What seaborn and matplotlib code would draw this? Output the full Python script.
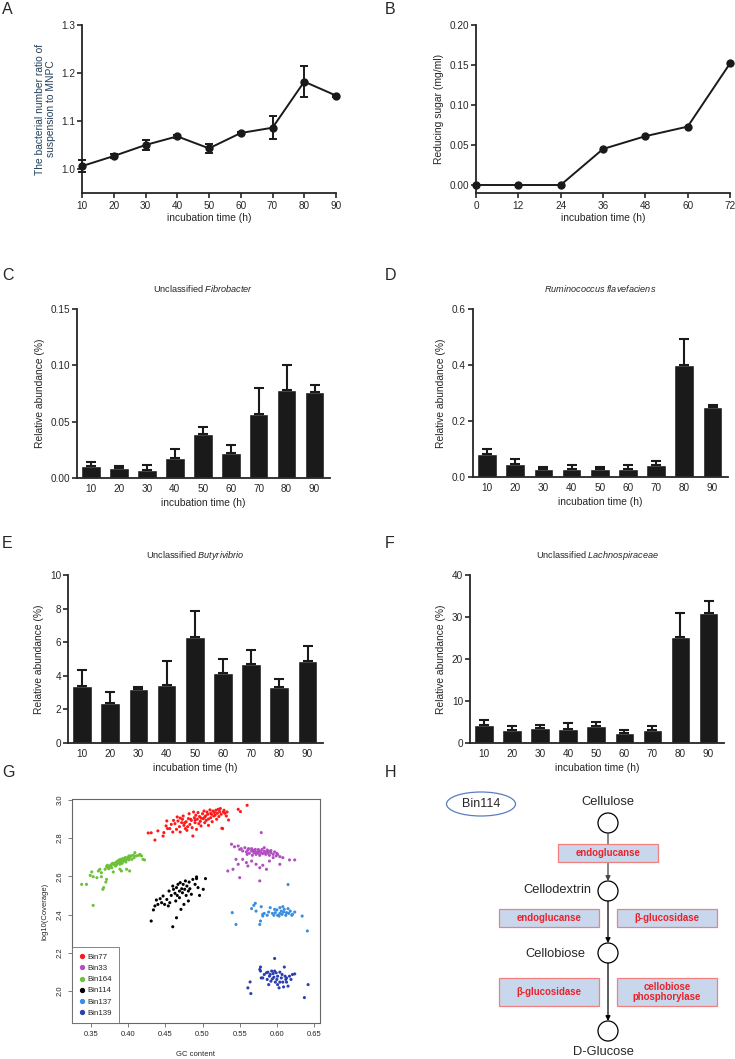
import numpy as np
import pandas as pd
import matplotlib
matplotlib.use('Agg')
import matplotlib.pyplot as plt
import seaborn as sns
from matplotlib.patches import Ellipse, Circle, Rectangle
from matplotlib.lines import Line2D

# Datos

# A - ratio bacteriano
time_a = [10, 20, 30, 40, 50, 60, 70, 80, 90]
ratio_a = [1.006, 1.027, 1.050, 1.068, 1.043, 1.075, 1.086, 1.182, 1.153]
ratio_a_err = [0.013, 0.005, 0.010, 0.003, 0.010, 0.002, 0.024, 0.032, 0.002]

# B - azucar reductor
time_b = [0, 12, 24, 36, 48, 60, 72]
sugar_b = [0.0, 0.0, 0.0, 0.045, 0.061, 0.073, 0.152]

# C-F - abundancia relativa
time_labels = ['10', '20', '30', '40', '50', '60', '70', '80', '90']
fibro = [0.0104, 0.0089, 0.0071, 0.0176, 0.0390, 0.0226, 0.0568, 0.0783, 0.0759]
fibro_err = [0.0036, 0.0018, 0.0045, 0.0083, 0.0062, 0.0064, 0.0227, 0.0217, 0.0065]
rumino = [0.081, 0.046, 0.030, 0.030, 0.029, 0.029, 0.042, 0.401, 0.249]
rumino_err = [0.018, 0.017, 0.007, 0.014, 0.008, 0.014, 0.016, 0.093, 0.008]
butyri = [3.41, 2.36, 3.22, 3.43, 6.33, 4.14, 4.73, 3.33, 4.86]
butyri_err = [0.94, 0.70, 0.11, 1.43, 1.55, 0.88, 0.78, 0.49, 0.94]
lachno = [4.2, 3.0, 3.65, 3.3, 4.05, 2.46, 3.17, 25.2, 30.9]
lachno_err = [1.3, 1.0, 0.75, 1.5, 1.05, 0.55, 0.88, 5.8, 2.8]

# G - bins (GC, log10 coverage)
bin77 = [(0.427, 2.827), (0.431, 2.828), (0.436, 2.790), (0.440, 2.838), (0.447, 2.811), (0.448, 2.829),
         (0.451, 2.864), (0.452, 2.890), (0.453, 2.850), (0.456, 2.850), (0.458, 2.872), (0.460, 2.832),
         (0.461, 2.893), (0.463, 2.876), (0.465, 2.846), (0.466, 2.911), (0.467, 2.890), (0.469, 2.860),
         (0.470, 2.832), (0.472, 2.881), (0.473, 2.899), (0.474, 2.916), (0.475, 2.867), (0.477, 2.850),
         (0.478, 2.886), (0.479, 2.841), (0.481, 2.902), (0.482, 2.928), (0.483, 2.872), (0.485, 2.893),
         (0.486, 2.855), (0.487, 2.811), (0.488, 2.937), (0.489, 2.907), (0.490, 2.881), (0.491, 2.920),
         (0.492, 2.846), (0.493, 2.899), (0.494, 2.934), (0.495, 2.876), (0.496, 2.913), (0.497, 2.888),
         (0.498, 2.864), (0.500, 2.928), (0.501, 2.902), (0.502, 2.942), (0.503, 2.881), (0.504, 2.916),
         (0.505, 2.893), (0.506, 2.937), (0.507, 2.925), (0.508, 2.867), (0.510, 2.948), (0.511, 2.907),
         (0.512, 2.925), (0.513, 2.886), (0.514, 2.942), (0.515, 2.916), (0.516, 2.934), (0.518, 2.946),
         (0.519, 2.899), (0.520, 2.930), (0.521, 2.951), (0.522, 2.913), (0.523, 2.939), (0.524, 2.955),
         (0.525, 2.925), (0.526, 2.852), (0.527, 2.850), (0.528, 2.937), (0.529, 2.946), (0.530, 2.930),
         (0.532, 2.916), (0.533, 2.937), (0.535, 2.895), (0.548, 2.951), (0.551, 2.939), (0.560, 2.972),
         (0.484, 2.899), (0.490, 2.895), (0.498, 2.905), (0.503, 2.910), (0.508, 2.900), (0.511, 2.930),
         (0.517, 2.920), (0.476, 2.880), (0.470, 2.905), (0.480, 2.860)]
bin33 = [(0.539, 2.768), (0.543, 2.755), (0.548, 2.759), (0.550, 2.741), (0.552, 2.745), (0.554, 2.733),
         (0.557, 2.750), (0.559, 2.728), (0.560, 2.715), (0.561, 2.738), (0.562, 2.745), (0.563, 2.721),
         (0.566, 2.733), (0.567, 2.710), (0.568, 2.736), (0.569, 2.724), (0.570, 2.731), (0.571, 2.741),
         (0.572, 2.715), (0.574, 2.728), (0.575, 2.721), (0.576, 2.736), (0.577, 2.710), (0.578, 2.729),
         (0.579, 2.724), (0.580, 2.741), (0.581, 2.719), (0.583, 2.731), (0.583, 2.750), (0.585, 2.715),
         (0.586, 2.728), (0.587, 2.738), (0.588, 2.721), (0.589, 2.731), (0.590, 2.710), (0.592, 2.724),
         (0.595, 2.715), (0.597, 2.728), (0.599, 2.707), (0.601, 2.714), (0.604, 2.703), (0.608, 2.698),
         (0.617, 2.686), (0.624, 2.686), (0.541, 2.637), (0.545, 2.689), (0.548, 2.663), (0.554, 2.689),
         (0.559, 2.672), (0.561, 2.654), (0.566, 2.680), (0.572, 2.663), (0.577, 2.645), (0.581, 2.658),
         (0.586, 2.637), (0.590, 2.680), (0.595, 2.698), (0.604, 2.663), (0.534, 2.628), (0.550, 2.593),
         (0.577, 2.576), (0.579, 2.829), (0.575, 2.740), (0.584, 2.725), (0.592, 2.735), (0.571, 2.725),
         (0.566, 2.745), (0.600, 2.720)]
bin164 = [(0.3375, 2.558), (0.344, 2.558), (0.349, 2.605), (0.351, 2.623), (0.353, 2.598), (0.358, 2.593),
          (0.360, 2.628), (0.362, 2.637), (0.364, 2.619), (0.366, 2.532), (0.367, 2.541), (0.369, 2.637),
          (0.370, 2.570), (0.371, 2.651), (0.372, 2.658), (0.374, 2.640), (0.375, 2.654), (0.377, 2.661),
          (0.378, 2.645), (0.380, 2.663), (0.381, 2.668), (0.383, 2.654), (0.384, 2.675), (0.384, 2.658),
          (0.386, 2.680), (0.387, 2.672), (0.388, 2.686), (0.389, 2.663), (0.390, 2.689), (0.392, 2.680),
          (0.392, 2.668), (0.393, 2.693), (0.395, 2.686), (0.396, 2.698), (0.397, 2.675), (0.398, 2.689),
          (0.399, 2.698), (0.401, 2.707), (0.401, 2.686), (0.402, 2.698), (0.404, 2.707), (0.405, 2.689),
          (0.407, 2.710), (0.408, 2.698), (0.409, 2.724), (0.411, 2.707), (0.414, 2.710), (0.416, 2.715),
          (0.418, 2.707), (0.420, 2.689), (0.422, 2.686), (0.380, 2.623), (0.389, 2.637), (0.398, 2.637),
          (0.402, 2.628), (0.391, 2.628), (0.353, 2.448), (0.371, 2.584), (0.364, 2.598), (0.379, 2.668),
          (0.385, 2.665), (0.391, 2.675), (0.394, 2.680), (0.376, 2.650), (0.382, 2.660), (0.388, 2.678),
          (0.400, 2.695), (0.373, 2.645), (0.396, 2.685)]
bin114 = [(0.431, 2.366), (0.434, 2.424), (0.436, 2.445), (0.438, 2.476), (0.440, 2.453), (0.443, 2.483),
          (0.445, 2.462), (0.447, 2.497), (0.449, 2.453), (0.452, 2.479), (0.454, 2.445), (0.455, 2.523),
          (0.456, 2.462), (0.458, 2.500), (0.460, 2.549), (0.460, 2.336), (0.461, 2.532), (0.463, 2.511),
          (0.464, 2.471), (0.465, 2.541), (0.466, 2.500), (0.467, 2.558), (0.469, 2.523), (0.469, 2.488),
          (0.470, 2.567), (0.472, 2.535), (0.473, 2.514), (0.474, 2.558), (0.475, 2.453), (0.476, 2.532),
          (0.477, 2.576), (0.478, 2.500), (0.479, 2.549), (0.481, 2.523), (0.482, 2.570), (0.483, 2.535),
          (0.485, 2.506), (0.487, 2.584), (0.490, 2.558), (0.492, 2.588), (0.494, 2.541), (0.496, 2.500),
          (0.501, 2.532), (0.504, 2.588), (0.465, 2.383), (0.471, 2.427), (0.481, 2.471), (0.492, 2.597)]
bin137 = [(0.540, 2.410), (0.545, 2.348), (0.566, 2.431), (0.569, 2.448), (0.571, 2.459), (0.572, 2.418),
          (0.577, 2.348), (0.578, 2.366), (0.579, 2.441), (0.581, 2.401), (0.583, 2.406), (0.587, 2.396),
          (0.589, 2.413), (0.591, 2.436), (0.594, 2.406), (0.596, 2.396), (0.598, 2.410), (0.600, 2.424),
          (0.601, 2.396), (0.604, 2.436), (0.604, 2.406), (0.606, 2.418), (0.607, 2.401), (0.608, 2.441),
          (0.609, 2.413), (0.610, 2.427), (0.612, 2.396), (0.613, 2.410), (0.615, 2.431), (0.616, 2.406),
          (0.618, 2.418), (0.620, 2.396), (0.621, 2.401), (0.624, 2.413), (0.634, 2.392), (0.641, 2.314),
          (0.615, 2.557), (0.581, 2.392), (0.603, 2.392), (0.597, 2.427)]
bin139 = [(0.561, 2.016), (0.564, 2.047), (0.565, 1.986), (0.578, 2.125), (0.578, 2.104), (0.579, 2.068),
          (0.583, 2.086), (0.586, 2.095), (0.587, 2.060), (0.588, 2.098), (0.589, 2.033), (0.590, 2.077),
          (0.591, 2.086), (0.592, 2.051), (0.594, 2.063), (0.595, 2.091), (0.596, 2.072), (0.597, 2.170),
          (0.597, 2.104), (0.598, 2.046), (0.599, 2.095), (0.600, 2.060), (0.601, 2.077), (0.603, 2.016),
          (0.604, 2.098), (0.604, 2.046), (0.606, 2.068), (0.607, 2.086), (0.608, 2.046), (0.609, 2.021),
          (0.610, 2.125), (0.611, 2.077), (0.612, 2.060), (0.613, 2.046), (0.613, 2.068), (0.615, 2.025),
          (0.617, 2.077), (0.619, 2.060), (0.621, 2.086), (0.624, 2.089), (0.642, 2.033), (0.637, 1.965),
          (0.577, 2.112), (0.581, 2.068), (0.593, 2.104), (0.601, 2.033)]

bin_names = ['Bin77', 'Bin33', 'Bin164', 'Bin114', 'Bin137', 'Bin139']
bin_colors = ['#ff1a1a', '#b04fc0', '#6cc03a', '#000000', '#3a8ee0', '#2b3fb0']

# Estilo
sns.set_theme(style='ticks')
plt.rcParams['font.family'] = ['Liberation Sans', 'DejaVu Sans']
plt.rcParams['mathtext.fontset'] = 'custom'
plt.rcParams['mathtext.rm'] = 'Liberation Sans'
plt.rcParams['mathtext.it'] = 'Liberation Sans:italic'
plt.rcParams['axes.linewidth'] = 1.3
plt.rcParams['xtick.major.width'] = 1.2
plt.rcParams['ytick.major.width'] = 1.2
plt.rcParams['xtick.major.size'] = 3.5
plt.rcParams['ytick.major.size'] = 3.5
plt.rcParams['xtick.labelsize'] = 7.2
plt.rcParams['ytick.labelsize'] = 7.2
plt.rcParams['xtick.major.pad'] = 2
plt.rcParams['ytick.major.pad'] = 1.5
plt.rcParams['axes.labelsize'] = 7.4

W, H = 735, 1059
fig = plt.figure(figsize=(W / 100, H / 100), dpi=100)


def add_ax(l, t, r, b):
    return fig.add_axes([l / W, 1 - b / H, (r - l) / W, (b - t) / H])


# capa de fondo para letras y diagrama
ax_h = fig.add_axes([0, 0, 1, 1])
ax_h.set_xlim(0, W)
ax_h.set_ylim(H, 0)
ax_h.axis('off')
ax_h.patch.set_alpha(0)

letters = {'A': (2, 2), 'B': (385, 2), 'C': (2, 268), 'D': (385, 268),
           'E': (2, 536), 'F': (385, 536), 'G': (2, 765), 'H': (385, 765)}
for k, (x, y) in letters.items():
    ax_h.text(x, y, k, fontsize=11.5, va='top', ha='left')

dark = '#1a1a1a'

# A
ax = add_ax(82, 25, 336, 193)
sns.lineplot(x=time_a, y=ratio_a, marker='o', markersize=6, markeredgewidth=0,
             color=dark, lw=1.4, ax=ax, clip_on=False, zorder=3)
ax.errorbar(time_a, ratio_a, yerr=ratio_a_err, fmt='none', ecolor=dark,
            elinewidth=1.4, capsize=3.2, capthick=1.4, clip_on=False, zorder=3)
ax.set_xlim(10, 90)
ax.set_ylim(0.95, 1.3)
ax.set_xticks(time_a)
ax.set_yticks([1.0, 1.1, 1.2, 1.3])
ax.set_yticklabels(['1.0', '1.1', '1.2', '1.3'])
ax.set_xlabel('incubation time (h)', labelpad=2)
ax.set_ylabel('The bacterial number ratio of\nsuspension to MNPC', color='#23405c',
              labelpad=4, linespacing=1.1)
sns.despine(ax=ax)

# B
ax = add_ax(476, 25, 730, 193)
sns.lineplot(x=time_b, y=sugar_b, marker='o', markersize=6, markeredgewidth=0,
             color=dark, lw=1.4, ax=ax, clip_on=False, zorder=3)
ax.set_xlim(0, 72)
ax.set_ylim(-0.01, 0.2)
ax.set_xticks(time_b)
ax.set_yticks([0.0, 0.05, 0.10, 0.15, 0.20])
ax.set_yticklabels(['0.00', '0.05', '0.10', '0.15', '0.20'])
ax.set_xlabel('incubation time (h)', labelpad=2)
ax.set_ylabel('Reducing sugar (mg/ml)', labelpad=4)
sns.despine(ax=ax)


def bar_panel(box, vals, errs, yticks, ytl, title):
    ax = add_ax(*box)
    sns.barplot(x=time_labels, y=vals, color=dark, saturation=1, width=0.7,
                errorbar=None, ax=ax)
    ax.errorbar(range(len(vals)), vals, yerr=[np.zeros(len(vals)), errs], fmt='none',
                ecolor=dark, elinewidth=1.5, capsize=3.5, capthick=1.5)
    ax.set_xlim(-0.5, 8.55)
    ax.set_ylim(yticks[0], yticks[-1])
    ax.set_yticks(yticks)
    ax.set_yticklabels(ytl)
    ax.set_xlabel('incubation time (h)', labelpad=3)
    ax.set_ylabel('Relative abundance (%)', labelpad=4)
    ax.tick_params(axis='x', length=0, pad=4)
    ax.set_title(title, fontsize=6.6, pad=12)
    sns.despine(ax=ax)
    return ax


bar_panel((77, 309, 330, 478), fibro, fibro_err, [0, 0.05, 0.10, 0.15],
          ['0.00', '0.05', '0.10', '0.15'], r'Unclassified $\it{Fibrobacter}$')
bar_panel((473, 309, 728, 477), rumino, rumino_err, [0, 0.2, 0.4, 0.6],
          ['0.0', '0.2', '0.4', '0.6'], r'$\it{Ruminococcus\ flavefaciens}$')
bar_panel((68, 575, 323, 743), butyri, butyri_err, [0, 2, 4, 6, 8, 10],
          ['0', '2', '4', '6', '8', '10'], r'Unclassified $\it{Butyrivibrio}$')
bar_panel((470, 575, 724, 743), lachno, lachno_err, [0, 10, 20, 30, 40],
          ['0', '10', '20', '30', '40'], r'Unclassified $\it{Lachnospiraceae}$')

# G - scatter de bins
rows = []
for name, pts in zip(bin_names, [bin77, bin33, bin164, bin114, bin137, bin139]):
    for gc, cov in pts:
        rows.append({'bin': name, 'gc': gc, 'cov': cov})
df_g = pd.DataFrame(rows)

ax = add_ax(72, 799, 320, 1023)
sns.scatterplot(data=df_g, x='gc', y='cov', hue='bin', hue_order=bin_names,
                palette=dict(zip(bin_names, bin_colors)), s=5, linewidth=0,
                legend=False, ax=ax)
ax.set_xlim(0.3245, 0.658)
ax.set_ylim(1.832, 3.005)
ax.set_xticks([0.35, 0.40, 0.45, 0.50, 0.55, 0.60, 0.65])
ax.set_xticklabels(['0.35', '0.40', '0.45', '0.50', '0.55', '0.60', '0.65'])
ax.set_yticks([2.0, 2.2, 2.4, 2.6, 2.8, 3.0])
ax.set_yticklabels(['2.0', '2.2', '2.4', '2.6', '2.8', '3.0'], rotation=90, va='center')
for s in ax.spines.values():
    s.set_color('#666666')
    s.set_linewidth(0.8)
ax.tick_params(labelsize=5.5, width=0.6, length=3, color='#666666', pad=3)
ax.set_xlabel('GC content', fontsize=5.5, labelpad=9)
ax.set_ylabel('log10(Coverage)', fontsize=5.5, labelpad=6)
handles = [Line2D([0], [0], marker='o', ls='', color=c, markersize=2.8) for c in bin_colors]
leg = ax.legend(handles, bin_names, loc='lower left', borderaxespad=0, fontsize=5.7,
                frameon=True, fancybox=False, edgecolor='#666666', handletextpad=0.2,
                handlelength=1.0, labelspacing=0.45, borderpad=0.8)
leg.get_frame().set_linewidth(0.7)

# H - diagrama de la ruta
cx = 608
line_kw = dict(arrowstyle='-|>', color='black', lw=0.9, mutation_scale=7, shrinkA=0, shrinkB=0)
ax_h.annotate('', xy=(cx, 881), xytext=(cx, 833), arrowprops=dict(line_kw, color='#444444'))
ax_h.annotate('', xy=(cx, 943), xytext=(cx, 901), arrowprops=line_kw)
ax_h.annotate('', xy=(cx, 1021), xytext=(cx, 963), arrowprops=line_kw)
for cy in [823, 891, 953, 1031]:
    ax_h.add_patch(Circle((cx, cy), 10, facecolor='white', edgecolor='black', lw=0.9))

box_fc = '#c9d7ec'
box_ec = '#f08080'
red = '#e8222b'
boxes = [((558, 844, 100, 18), 'endoglucanse'),
         ((499, 909, 100, 18), 'endoglucanse'),
         ((617, 909, 100, 18), 'β-glucosidase'),
         ((499, 978, 100, 28), 'β-glucosidase'),
         ((617, 978, 100, 28), 'cellobiose\nphosphorylase')]
for (x, y, w, h), lab in boxes:
    ax_h.add_patch(Rectangle((x, y), w, h, facecolor=box_fc, edgecolor=box_ec, lw=0.9, zorder=3))
    ax_h.text(x + w / 2, y + h / 2, lab, color=red, fontsize=6.9, fontweight='bold',
              ha='center', va='center', zorder=4, linespacing=1.1)

ax_h.add_patch(Ellipse((481, 804), 69, 24, facecolor='white', edgecolor='#5b7dbf', lw=0.9))
ax_h.text(481, 804, 'Bin114', fontsize=9, ha='center', va='center')
ax_h.text(cx, 802, 'Cellulose', fontsize=9.3, ha='center', va='center')
ax_h.text(591, 890, 'Cellodextrin', fontsize=9.3, ha='right', va='center')
ax_h.text(585, 954, 'Cellobiose', fontsize=9.3, ha='right', va='center')
ax_h.text(603, 1052, 'D-Glucose', fontsize=9.3, ha='center', va='center')

fig.savefig('out.png', dpi=100)
